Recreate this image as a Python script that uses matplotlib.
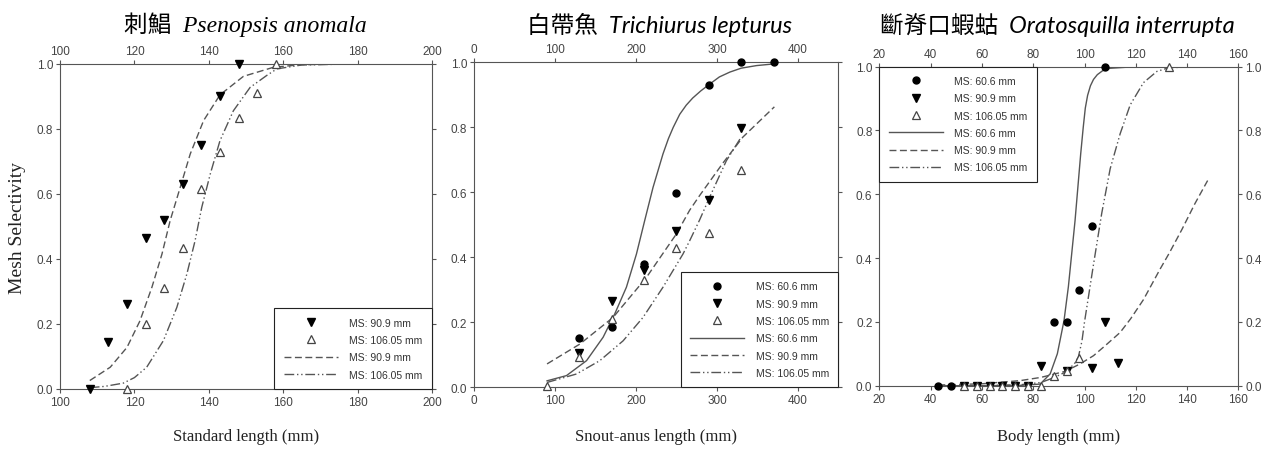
import matplotlib
matplotlib.use("Agg")
import matplotlib.pyplot as plt

# ==== 字型設定 ====
plt.rcParams['font.family'] = ['Liberation Sans', 'DejaVu Sans']

# ==== 資料: 刺鯧 Psenopsis anomala ====
p1_len_909 = [108, 113, 118, 123, 128, 133, 138, 143, 148]
p1_sel_909 = [0.0, 0.145, 0.26, 0.465, 0.52, 0.63, 0.75, 0.90, 1.0]
p1_len_1060 = [118, 123, 128, 133, 138, 143, 148, 153, 158]
p1_sel_1060 = [0.0, 0.20, 0.31, 0.435, 0.615, 0.73, 0.835, 0.91, 1.0]
# fitted curves
p1_fit909_x = [108, 113.5, 118, 121.5, 124.7, 127.4, 129.6, 132.3, 135, 138.6, 143, 149.3, 157.4, 165, 178]
p1_fit909_y = [0.026, 0.067, 0.128, 0.21, 0.313, 0.415, 0.518, 0.62, 0.723, 0.826, 0.905, 0.962, 0.99, 0.998, 1.0]
p1_fit1060_x = [108, 112, 117, 120, 123.3, 127.8, 131.4, 134.1, 136.3, 138.1, 140.4, 143, 146.6, 151.1, 155.6, 158.3, 165, 178]
p1_fit1060_y = [0.004, 0.008, 0.018, 0.035, 0.067, 0.149, 0.251, 0.354, 0.456, 0.559, 0.662, 0.764, 0.856, 0.928, 0.965, 0.985, 0.997, 1.0]

# ==== 資料: 白帶魚 Trichiurus lepturus ====
p2_len_606 = [130, 170, 210, 250, 290, 330, 370]
p2_sel_606 = [0.152, 0.185, 0.38, 0.598, 0.93, 1.0, 1.0]
p2_len_909 = [130, 170, 210, 250, 290, 330]
p2_sel_909 = [0.105, 0.267, 0.36, 0.48, 0.575, 0.797]
p2_len_1060 = [90, 130, 170, 210, 250, 290, 330]
p2_sel_1060 = [0.005, 0.092, 0.21, 0.33, 0.43, 0.474, 0.67]
p2_fit606_x = [90, 114, 138.8, 159.3, 173.7, 188.1, 200.5, 210.7, 221, 233.3, 240, 246, 254, 262, 270, 280, 291, 303, 316, 330, 349, 370]
p2_fit606_y = [0.02, 0.036, 0.082, 0.154, 0.226, 0.308, 0.41, 0.513, 0.615, 0.718, 0.765, 0.80, 0.84, 0.868, 0.89, 0.912, 0.933, 0.955, 0.97, 0.982, 0.99, 0.995]
p2_fit909_x = [90, 130.5, 171.6, 212.8, 249.9, 266.3, 278.6, 307.4, 332.1, 371]
p2_fit909_y = [0.072, 0.133, 0.215, 0.338, 0.472, 0.545, 0.59, 0.69, 0.77, 0.863]
p2_fit1060_x = [90, 126.4, 155.2, 184, 208.6, 233.3, 258, 266.3, 278.6, 291, 311.6, 330]
p2_fit1060_y = [0.015, 0.041, 0.082, 0.143, 0.215, 0.308, 0.41, 0.451, 0.515, 0.585, 0.697, 0.77]

# ==== 資料: 斷脊口蝦蛄 Oratosquilla interrupta ====
p3_len_606 = [43, 48, 88, 93, 98, 103, 108]
p3_sel_606 = [0, 0, 0.2, 0.2, 0.3, 0.5, 1.0]
p3_len_909 = [53, 58, 63, 68, 73, 78, 83, 93, 103, 108, 113]
p3_sel_909 = [0, 0, 0, 0, 0, 0, 0.063, 0.045, 0.055, 0.2, 0.07]
p3_len_1060 = [53, 58, 63, 68, 73, 78, 83, 88, 93, 98, 133]
p3_sel_1060 = [0, 0, 0, 0, 0, 0, 0, 0.03, 0.047, 0.087, 1.0]
p3_fit606_x = [43, 60, 75, 82.7, 86.6, 89.4, 92, 93.7, 96.3, 98.5, 99.5, 100.3, 101.2, 102.3, 103.5, 105, 107, 110, 118, 148]
p3_fit606_y = [0, 0, 0.001, 0.005, 0.037, 0.10, 0.204, 0.31, 0.517, 0.726, 0.81, 0.87, 0.91, 0.94, 0.96, 0.975, 0.987, 0.995, 0.999, 1.0]
p3_fit909_x = [43, 60, 75, 83, 88, 92.4, 98, 103.5, 108, 113.9, 118, 123, 129.5, 133, 138, 143, 148]
p3_fit909_y = [0.002, 0.006, 0.016, 0.026, 0.036, 0.045, 0.067, 0.094, 0.125, 0.167, 0.21, 0.27, 0.366, 0.415, 0.49, 0.57, 0.643]
p3_fit1060_x = [43, 60, 75, 83, 88, 92.4, 96, 97.6, 99, 100, 103.5, 106.7, 110, 113.9, 117.8, 123, 128.2, 133, 148]
p3_fit1060_y = [0, 0, 0.003, 0.01, 0.025, 0.042, 0.068, 0.09, 0.14, 0.2, 0.38, 0.54, 0.68, 0.79, 0.88, 0.95, 0.985, 0.997, 1.0]

titles = ['刺鯧  Psenopsis anomala', '白帶魚  Trichiurus lepturus', '斷脊口蝦蛄  Oratosquilla interrupta']
xlabels = ['Standard length (mm)', 'Snout-anus length (mm)', 'Body length (mm)']
labels = ['MS: 60.6 mm', 'MS: 90.9 mm', 'MS: 106.05 mm']

GRAY = '#555555'
DASH = (0, (5, 2.5))
DASHDOT2 = (0, (7, 2, 1, 2, 1, 2))

fig = plt.figure(figsize=(12.8, 4.52), dpi=100)
ax1 = fig.add_axes([0.0469, 0.1372, 0.2906, 0.7190])
ax2 = fig.add_axes([0.3705, 0.1409, 0.2844, 0.7190])
ax3 = fig.add_axes([0.6870, 0.1445, 0.2805, 0.7058])


def style_axes(ax, xlim, xticks, right_labels=False):
    ax.set_xlim(xlim)
    ax.set_ylim(0, 1)
    ax.set_xticks(xticks)
    ax.set_yticks([0, 0.2, 0.4, 0.6, 0.8, 1.0])
    ax.yaxis.set_major_formatter('{x:.1f}')
    ax.tick_params(direction='out', length=3, width=0.8, color=GRAY, labelcolor='#444444',
                   labelsize=8.5, pad=2, top=True, labeltop=True, right=True, labelright=right_labels)
    for s in ax.spines.values():
        s.set_color(GRAY)
        s.set_linewidth(0.8)


def markers(ax, x, y, kind):
    if kind == 'circle':
        return ax.plot(x, y, 'o', ms=5, color='black', ls='none', clip_on=False, zorder=4)[0]
    if kind == 'down':
        return ax.plot(x, y, 'v', ms=5.5, color='black', ls='none', clip_on=False, zorder=4)[0]
    return ax.plot(x, y, '^', ms=5.5, mfc='white', mec='#444444', mew=0.9, ls='none',
                   clip_on=False, zorder=5)[0]


def legend(ax, handles, labs, loc):
    lg = ax.legend(handles, labs, loc=loc, borderaxespad=0, fancybox=False, fontsize=7.5,
                   handlelength=5.2, handletextpad=1.1, labelspacing=0.7, borderpad=0.9,
                   numpoints=1, framealpha=1)
    lg.get_frame().set_edgecolor('#222222')
    lg.get_frame().set_linewidth(0.8)
    for t in lg.get_texts():
        t.set_color('#333333')


# ---- Panel 1 ----
m2 = markers(ax1, p1_len_909, p1_sel_909, 'down')
m3 = markers(ax1, p1_len_1060, p1_sel_1060, 'up')
l2, = ax1.plot(p1_fit909_x, p1_fit909_y, color=GRAY, lw=1, ls=DASH)
l3, = ax1.plot(p1_fit1060_x, p1_fit1060_y, color=GRAY, lw=1, ls=DASHDOT2)
style_axes(ax1, (100, 200), [100, 120, 140, 160, 180, 200])
legend(ax1, [m2, m3, l2, l3], [labels[1], labels[2], labels[1], labels[2]], 'lower right')

# ---- Panel 2 ----
m1 = markers(ax2, p2_len_606, p2_sel_606, 'circle')
m2 = markers(ax2, p2_len_909, p2_sel_909, 'down')
m3 = markers(ax2, p2_len_1060, p2_sel_1060, 'up')
l1, = ax2.plot(p2_fit606_x, p2_fit606_y, color=GRAY, lw=1)
l2, = ax2.plot(p2_fit909_x, p2_fit909_y, color=GRAY, lw=1, ls=DASH)
l3, = ax2.plot(p2_fit1060_x, p2_fit1060_y, color=GRAY, lw=1, ls=DASHDOT2)
style_axes(ax2, (0, 450), [0, 100, 200, 300, 400])
legend(ax2, [m1, m2, m3, l1, l2, l3], labels + labels, 'lower right')

# ---- Panel 3 ----
m1 = markers(ax3, p3_len_606, p3_sel_606, 'circle')
m2 = markers(ax3, p3_len_909, p3_sel_909, 'down')
m3 = markers(ax3, p3_len_1060, p3_sel_1060, 'up')
l1, = ax3.plot(p3_fit606_x, p3_fit606_y, color=GRAY, lw=1)
l2, = ax3.plot(p3_fit909_x, p3_fit909_y, color=GRAY, lw=1, ls=DASH)
l3, = ax3.plot(p3_fit1060_x, p3_fit1060_y, color=GRAY, lw=1, ls=DASHDOT2)
style_axes(ax3, (20, 160), [20, 40, 60, 80, 100, 120, 140, 160], right_labels=True)
legend(ax3, [m1, m2, m3, l1, l2, l3], labels + labels, 'upper left')

# ---- 標題與軸標籤 ----
title_fams = [['Liberation Serif', 'Noto Sans CJK TC'],
              ['Lato', 'Noto Sans CJK TC'],
              ['Lato', 'Noto Sans CJK TC']]
title_x = [245, 660, 1057]
for t, fam, xc in zip(titles, title_fams, title_x):
    fig.text(xc / 1280, 1 - 25 / 452, t, family=fam, style='italic', fontsize=17,
             ha='center', va='center', color='black')

for ax, lab in zip([ax1, ax2, ax3], xlabels):
    pos = ax.get_position()
    fig.text(pos.x0 + pos.width / 2, 1 - 437 / 452, lab, family='Liberation Serif',
             fontsize=12, ha='center', va='center', color='#222222')

fig.text(18 / 1280, 1 - 228 / 452, 'Mesh Selectivity', family='Liberation Serif',
         fontsize=14, rotation=90, ha='center', va='center', color='#222222')

fig.savefig('out.png', dpi=100)
